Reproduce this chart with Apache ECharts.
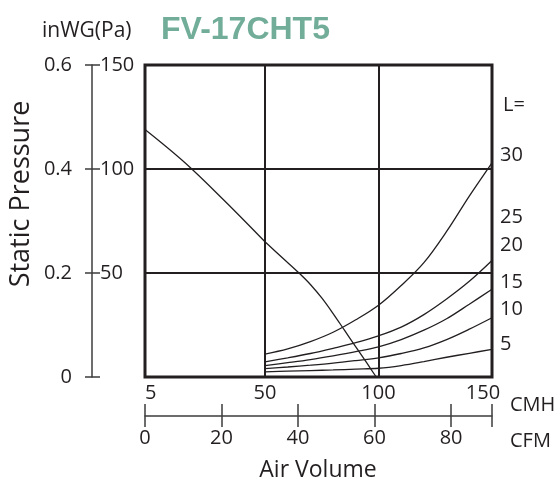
<!DOCTYPE html>
<html>
<head>
<meta charset="utf-8">
<script src="https://cdn.jsdelivr.net/npm/echarts@6/dist/echarts.min.js"></script>
<style>html,body{margin:0;padding:0;background:#fff}#c{width:560px;height:484px}</style>
</head>
<body>
<div id="c"></div>
<script>
// ---- data ----
const cmhLowTicks = [5];
const cmhHighTicks = [50, 100, 150];
const cfmTicks = [0, 20, 40, 60, 80];
const cfmMax = 90.7;          // CFM value at the right edge of the plot
const paTicks = [50, 100, 150];
const inwgTicks = [0, 0.2, 0.4, 0.6];
const lLabels = ['30', '25', '20', '15', '10', '5'];

// fan P-Q curve (CMH, Pa), split at 50 CMH where the CMH scale changes
const pqLow = [[5,119],[20,103],[35,84.5],[50,65]];
const pqHigh = [[50,65],[58,57],[65,50],[70,44.5],[75,38],[80,30.5],[85,22.5],[90,14.5],[95,6.5],[99,0]];

// system curves (CMH, Pa) for duct length L
const sysL30 = [[50,11],[60,13.5],[70,17],[80,21.5],[90,27.5],[100,34.5],[110,44],[120,55],[130,70],[140,87],[150,103]];
const sysL20 = [[50,7.3],[60,9.2],[70,11.3],[80,13.8],[90,16.5],[100,19.8],[110,24],[120,30],[130,37.5],[140,46],[150,56]];
const sysL15 = [[50,5.5],[60,6.9],[70,8.4],[80,10.2],[90,12.2],[100,14.5],[110,18],[120,22.5],[130,28],[140,35],[150,42.2]];
const sysL10 = [[50,4],[60,4.8],[70,5.7],[80,6.7],[90,7.9],[100,9.2],[110,11.3],[120,14],[130,18],[140,23],[150,28.5]];
const sysL5  = [[50,2.5],[60,2.8],[70,3.1],[80,3.4],[90,3.8],[100,4.2],[110,5.5],[120,7.4],[130,9.5],[140,11.4],[150,13.3]];

// ---- chart ----
const INK = '#231f20';
const AX = '#3c3c3c';
const FONT = 'Open Sans';
const chart = echarts.init(document.getElementById('c'), null, {renderer: 'canvas'});

function curve(data, xi, yi) {
  return {type: 'line', data: data, xAxisIndex: xi, yAxisIndex: yi, smooth: 0.35,
    showSymbol: false, symbol: 'none', silent: true, clip: true,
    lineStyle: {color: INK, width: 1.3}, z: 5};
}
const lY = [155, 217, 245, 282, 309, 344];
const gridBase = {show: false, outerBoundsMode: 'none', containLabel: false};

const option = {
  animation: false,
  backgroundColor: '#fff',
  textStyle: {fontFamily: FONT, color: INK},
  grid: [
    Object.assign({left: 145, width: 120, top: 65, height: 312}, gridBase),
    Object.assign({left: 265, width: 227, top: 65, height: 312}, gridBase),
    Object.assign({}, gridBase, {left: 145, width: 347, top: 65, height: 312, show: true, borderColor: INK, borderWidth: 3, backgroundColor: 'transparent'}),
    Object.assign({left: 145, width: 347, top: 65, height: 362}, gridBase),   // CFM ticks + labels (bottom at 427)
    Object.assign({left: 145, width: 347, top: 65, height: 351}, gridBase)    // CFM axis line (bottom at 416)
  ],
  xAxis: [
    {type: 'value', gridIndex: 0, min: 5, max: 50, position: 'bottom',
      axisLine: {show: false}, axisTick: {show: false}, splitLine: {show: false},
      axisLabel: {customValues: cmhLowTicks, align: 'left', margin: 6, fontSize: 20, color: INK, fontFamily: FONT}},
    {type: 'value', gridIndex: 1, min: 50, max: 150, interval: 50, position: 'bottom',
      axisLine: {show: false}, axisTick: {show: false},
      splitLine: {show: true, lineStyle: {color: INK, width: 2}},
      axisLabel: {customValues: cmhHighTicks, margin: 6, fontSize: 20, color: INK, fontFamily: FONT,
        formatter: v => v === 150 ? '{r|150}' : String(v),
        rich: {r: {fontSize: 20, fontFamily: FONT, color: INK, padding: [0, 18, 0, 0]}}}},
    {type: 'value', gridIndex: 2, min: 0, max: 150, show: false},
    {type: 'value', gridIndex: 3, min: 0, max: cfmMax, position: 'bottom',
      axisLine: {show: false},
      axisTick: {show: true, inside: true, length: 23, customValues: cfmTicks.concat([cfmMax]), lineStyle: {color: AX, width: 1.5}},
      axisLabel: {customValues: cfmTicks, margin: 1, fontSize: 20, color: INK, fontFamily: FONT},
      splitLine: {show: false}},
    {type: 'value', gridIndex: 4, min: 0, max: cfmMax, position: 'bottom',
      axisLine: {show: true, lineStyle: {color: AX, width: 1.5}},
      axisTick: {show: false}, axisLabel: {show: false}, splitLine: {show: false}}
  ],
  yAxis: [
    {type: 'value', gridIndex: 0, min: 0, max: 150, interval: 50, position: 'left', offset: 53,
      axisLine: {show: true, lineStyle: {color: AX, width: 1.5}},
      axisTick: {show: true, inside: true, length: 8, lineStyle: {color: AX, width: 1.5}},
      axisLabel: {inside: true, margin: 8, fontSize: 20, color: INK, fontFamily: FONT, customValues: paTicks},
      splitLine: {show: true, lineStyle: {color: INK, width: 2}}},
    {type: 'value', gridIndex: 0, min: 0, max: 0.6, interval: 0.2, position: 'left', offset: 53,
      axisLine: {show: false},
      axisTick: {show: true, inside: false, length: 7, lineStyle: {color: AX, width: 1.5}},
      axisLabel: {margin: 20, fontSize: 20, color: INK, fontFamily: FONT, customValues: inwgTicks,
        formatter: v => v === 0 ? '0' : v.toFixed(1)},
      splitLine: {show: false}},
    {type: 'value', gridIndex: 1, min: 0, max: 150, interval: 50,
      axisLine: {show: false}, axisTick: {show: false}, axisLabel: {show: false},
      splitLine: {show: true, lineStyle: {color: INK, width: 2}}},
    {type: 'value', gridIndex: 2, min: 0, max: 150, show: false},
    {type: 'value', gridIndex: 3, min: 0, max: 1, show: false},
    {type: 'value', gridIndex: 4, min: 0, max: 1, show: false}
  ],
  series: [
    curve(pqLow, 0, 0),
    curve(pqHigh, 1, 2),
    curve(sysL30, 1, 2),
    curve(sysL20, 1, 2),
    curve(sysL15, 1, 2),
    curve(sysL10, 1, 2),
    curve(sysL5, 1, 2)
  ],
  graphic: [
    {type: 'text', x: 42, y: 31, style: {text: 'inWG(Pa)', font: '21px "Open Sans"', fill: INK, textVerticalAlign: 'middle'}},
    {type: 'text', x: 161, y: 30, style: {text: 'FV-17CHT5', font: 'bold 32px "Liberation Sans"', fill: '#72ad9a', textVerticalAlign: 'middle'}},
    {type: 'text', x: 21, y: 194, rotation: Math.PI / 2, style: {text: 'Static Pressure', font: '27px "Open Sans"', fill: INK, textAlign: 'center', textVerticalAlign: 'middle'}},
    {type: 'text', x: 318, y: 470, style: {text: 'Air Volume', font: '23px "Open Sans"', fill: INK, textAlign: 'center', textVerticalAlign: 'middle'}},
    {type: 'text', x: 510, y: 405, style: {text: 'CMH', font: '20px "Open Sans"', fill: INK, textVerticalAlign: 'middle'}},
    {type: 'text', x: 510, y: 441, style: {text: 'CFM', font: '20px "Open Sans"', fill: INK, textVerticalAlign: 'middle'}},
    {type: 'text', x: 503, y: 105, style: {text: 'L=', font: '20px "Open Sans"', fill: INK, textVerticalAlign: 'middle'}}
  ].concat(lLabels.map((t, i) => ({type: 'text', x: 500, y: lY[i], style: {text: t, font: '20px "Open Sans"', fill: INK, textVerticalAlign: 'middle'}})))
};
chart.setOption(option);
</script>
</body>
</html>
